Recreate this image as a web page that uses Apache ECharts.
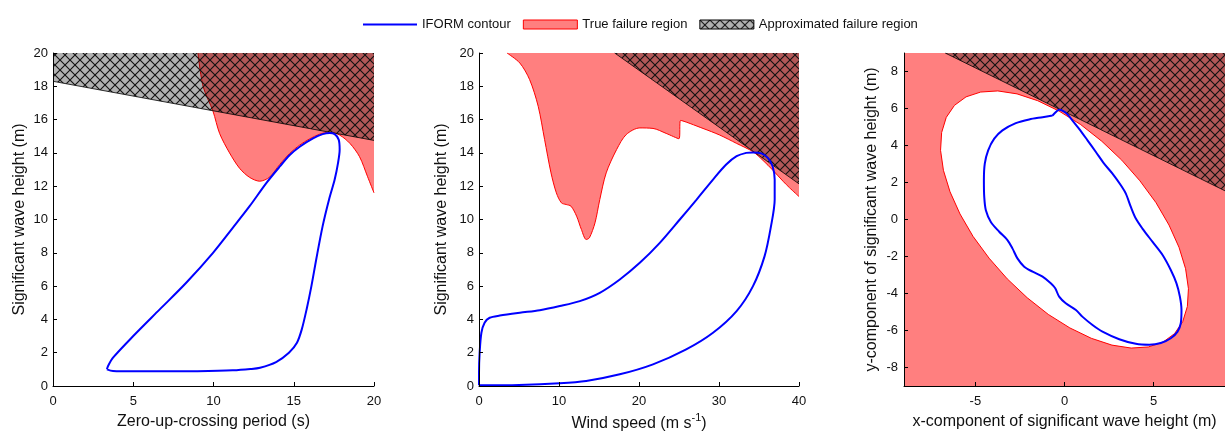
<!DOCTYPE html>
<html>
<head>
<meta charset="utf-8">
<script src="https://cdn.jsdelivr.net/npm/echarts@6/dist/echarts.min.js"></script>
<style>
  html, body { margin: 0; padding: 0; background: #fff; }
  #chart { width: 1225px; height: 439px; }
</style>
</head>
<body>
<div id="chart"></div>
<script>
// panel 1: zero-up-crossing period (s) vs Hs (m)
const iform1 = [[3.36,1.0],[3.74,0.9],[5,0.88],[7,0.88],[9,0.89],[11.2,0.94],[12.3,1.02],[12.9,1.1],[13.9,1.44],[14.7,2.0],[15.2,2.6],[15.5,3.4],[15.8,4.6],[16.1,6.0],[16.4,7.6],[16.8,9.6],[17.2,11.2],[17.55,12.4],[17.76,13.4],[17.86,14.2],[17.8,14.8],[17.55,15.13],[17.24,15.2],[16.8,15.13],[16.2,14.87],[15.37,14.37],[14.75,13.87],[14.12,13.17],[13.3,12.2],[12.25,10.8],[11.2,9.5],[9.97,8.0],[8.3,6.2],[6.65,4.6],[5.0,3.0],[3.74,1.7],[3.43,1.2],[3.36,1.0]];
const fail1 = [[9.03,20],[9.35,18.0],[9.97,16.5],[10.38,15.17],[11.0,14.0],[11.63,13.07],[12.25,12.53],[12.88,12.3],[13.5,12.55],[14.12,13.3],[14.75,13.97],[15.37,14.47],[16.0,14.85],[16.6,15.12],[17.24,15.25],[17.86,15.07],[18.5,14.57],[19.1,13.77],[19.6,12.57],[20,11.6]];
const approx1 = [[0,18.3],[20,14.75]];

// panel 2: wind speed (m/s) vs Hs (m)
const iform2 = [[0,0.04],[5,0.06],[10.08,0.16],[13.4,0.3],[17.6,0.7],[21.75,1.3],[25.9,2.2],[29.25,3.2],[32.2,4.5],[34.25,6.0],[35.7,7.8],[36.5,9.6],[36.96,11.2],[36.96,12.4],[36.7,13.2],[36.1,13.7],[35.3,13.97],[34.25,14.03],[33.4,14.0],[32.2,13.8],[30.9,13.3],[29.25,12.4],[27.2,11.2],[25.1,10.0],[22.6,8.6],[20.1,7.4],[17.6,6.4],[15.1,5.6],[12.6,5.1],[10.1,4.8],[7.6,4.55],[5.1,4.4],[2.6,4.23],[1.33,4.1],[0.7,3.8],[0.3,3.2],[0.08,2.0],[0,0.8],[0,0.04]];
const fail2 = [[3.5,20],[5.1,19.4],[6.33,18.4],[7.4,16.8],[8.2,14.8],[9.0,12.8],[9.67,11.6],[10.3,11.0],[10.9,10.9],[11.5,10.8],[12.2,10.2],[12.8,9.4],[13.4,8.8],[13.8,8.9],[14.5,9.8],[15.1,11.2],[15.9,12.8],[17.2,14.2],[18.4,15.1],[20.1,15.5],[21.75,15.47],[23.4,15.17],[25.0,14.85],[25.2,15.95],[28.0,15.47],[30.1,15.07],[32.2,14.57],[34.25,14.07],[35.5,13.55],[36.75,12.95],[38.0,12.3],[38.83,11.9],[40,11.38]];
const approx2 = [[16.96,20],[40,12.14]];

// panel 3: x / y components of Hs (m)
const iform3 = [[-0.67,5.62],[-0.45,5.84],[-0.3,5.93],[-0.07,5.86],[0.17,5.68],[0.45,5.35],[0.82,4.9],[1.29,4.28],[1.76,3.65],[2.22,3.02],[2.69,2.48],[3.16,1.85],[3.44,1.4],[3.72,0.68],[4.0,0.05],[4.37,-0.49],[4.93,-1.2],[5.5,-1.92],[5.96,-2.73],[6.28,-3.45],[6.47,-4.17],[6.56,-4.89],[6.52,-5.61],[6.34,-6.06],[5.96,-6.42],[5.4,-6.68],[4.75,-6.77],[4.0,-6.72],[3.07,-6.47],[2.13,-6.06],[1.57,-5.7],[1.0,-5.25],[0.64,-4.89],[0.07,-4.53],[-0.3,-4.17],[-0.52,-3.72],[-0.77,-3.45],[-1.23,-3.09],[-1.79,-2.82],[-2.26,-2.55],[-2.64,-2.1],[-2.92,-1.56],[-3.2,-1.11],[-3.66,-0.66],[-4.13,-0.13],[-4.41,0.5],[-4.5,1.22],[-4.52,2.12],[-4.47,3.02],[-4.28,3.74],[-3.94,4.37],[-3.48,4.82],[-2.73,5.21],[-1.98,5.41],[-1.23,5.53],[-0.67,5.62]];
const failOuter3 = [[-9,-9],[9,-9],[9,9],[-9,9]];
const safeEdge3 = [[6.17,-6.17],[6.63,-5.52],[6.89,-4.7],[6.95,-3.74],[6.79,-2.66],[6.42,-1.5],[5.86,-0.3],[5.13,0.91],[4.23,2.09],[3.21,3.21],[2.09,4.23],[0.91,5.13],[-0.3,5.86],[-1.5,6.42],[-2.66,6.79],[-3.74,6.95],[-4.7,6.89],[-5.52,6.63],[-6.17,6.17],[-6.63,5.52],[-6.89,4.7],[-6.95,3.74],[-6.79,2.66],[-6.42,1.5],[-5.86,0.3],[-5.13,-0.91],[-4.23,-2.09],[-3.21,-3.21],[-2.09,-4.23],[-0.91,-5.13],[0.3,-5.86],[1.5,-6.42],[2.66,-6.79],[3.74,-6.95],[4.7,-6.89],[5.52,-6.63]];
const approx3 = [[-6.69,9],[9,1.55]];

const ticks3x = [-5, 0, 5];
const ticks3y = [-8, -6, -4, -2, 0, 2, 4, 6, 8];

const FONT = 'Liberation Sans, Arial, sans-serif';
const INK = '#111';
const BLUE = '#0000FF';
const RED_FILL = '#FF7F7F';
const RED_EDGE = '#FF0000';

function makeHatch() {
  const c = document.createElement('canvas');
  c.width = 10;
  c.height = 10;
  const ctx = c.getContext('2d');
  ctx.fillStyle = 'rgba(0,0,0,0.3)';
  ctx.fillRect(0, 0, 10, 10);
  ctx.strokeStyle = '#111';
  ctx.lineWidth = 1.1;
  ctx.beginPath();
  ctx.moveTo(-1, -1); ctx.lineTo(11, 11);
  ctx.moveTo(11, -1); ctx.lineTo(-1, 11);
  ctx.stroke();
  return { image: c, repeat: 'repeat' };
}
const hatch = makeHatch();

function axis(gridIndex, min, max, interval, name, nameGap, labelMargin, extra) {
  const a = {
    gridIndex: gridIndex,
    type: 'value',
    min: min,
    max: max,
    interval: interval,
    z: 10,
    name: name,
    nameLocation: 'middle',
    nameGap: nameGap,
    nameTextStyle: { fontSize: 16, color: INK, fontFamily: FONT },
    axisLine: { show: true, onZero: false, lineStyle: { color: '#000', width: 1 } },
    axisTick: { show: true, inside: true, length: 4, lineStyle: { color: '#000' } },
    axisLabel: { fontSize: 13, color: INK, fontFamily: FONT, margin: labelMargin },
    splitLine: { show: false }
  };
  return Object.assign(a, extra || {});
}

const option = {
  animation: false,
  backgroundColor: '#fff',
  legend: {
    left: 358,
    top: 13,
    itemWidth: 54,
    itemHeight: 9,
    itemGap: 12,
    textStyle: { fontSize: 13, color: INK, fontFamily: FONT },
    data: [
      { name: 'IFORM contour', icon: 'path://M0,0 L54,0 L54,2 L0,2 Z', itemStyle: { color: BLUE, borderWidth: 0 } },
      { name: 'True failure region', icon: 'rect', itemStyle: { color: RED_FILL, borderColor: RED_EDGE, borderWidth: 1 } },
      { name: 'Approximated failure region', icon: 'rect', itemStyle: { color: hatch, borderColor: '#000', borderWidth: 1 } }
    ]
  },
  grid: [
    { left: 53, top: 53, width: 321, height: 333 },
    { left: 479, top: 53, width: 320, height: 333 },
    { left: 904, top: 53, width: 321, height: 333 }
  ],
  xAxis: [
    axis(0, 0, 20, 5, 'Zero-up-crossing period (s)', 28, 9),
    axis(1, 0, 40, 10, '{a|Wind speed (m s}{b|-1}{a|)}', 26, 9, {
      nameTextStyle: {
        rich: {
          a: { fontSize: 16, lineHeight: 22, color: INK, fontFamily: FONT },
          b: { fontSize: 11, lineHeight: 11, color: INK, fontFamily: FONT, verticalAlign: 'top' }
        }
      }
    }),
    axis(2, -9, 9, 1, 'x-component of significant wave height (m)', 28, 9)
  ],
  yAxis: [
    axis(0, 0, 20, 2, 'Significant wave height (m)', 25, 5),
    axis(1, 0, 20, 2, 'Significant wave height (m)', 29, 5),
    axis(2, -9, 9, 1, 'y-component of significant wave height (m)', 24, 6)
  ],
  series: [
    // panel 1
    {
      name: 'True failure region', type: 'line', xAxisIndex: 0, yAxisIndex: 0, z: 2,
      data: fail1, symbol: 'none', smooth: 0.3,
      itemStyle: { color: RED_FILL },
      lineStyle: { color: RED_EDGE, width: 1 },
      areaStyle: { color: RED_FILL, opacity: 1, origin: 'end' }
    },
    {
      name: 'Approximated failure region', type: 'line', xAxisIndex: 0, yAxisIndex: 0, z: 3,
      data: approx1, symbol: 'none',
      lineStyle: { color: '#000', width: 0.8 },
      areaStyle: { color: hatch, opacity: 1, origin: 'end' }
    },
    {
      name: 'IFORM contour', type: 'line', xAxisIndex: 0, yAxisIndex: 0, z: 4,
      data: iform1, symbol: 'none', smooth: 0.3,
      itemStyle: { color: BLUE },
      lineStyle: { color: BLUE, width: 2 }
    },
    // panel 2
    {
      name: 'True failure region', type: 'line', xAxisIndex: 1, yAxisIndex: 1, z: 2,
      data: fail2, symbol: 'none', smooth: 0.3,
      itemStyle: { color: RED_FILL },
      lineStyle: { color: RED_EDGE, width: 1 },
      areaStyle: { color: RED_FILL, opacity: 1, origin: 'end' }
    },
    {
      name: 'Approximated failure region', type: 'line', xAxisIndex: 1, yAxisIndex: 1, z: 3,
      data: approx2, symbol: 'none',
      lineStyle: { color: '#000', width: 0.8 },
      areaStyle: { color: hatch, opacity: 1, origin: 'end' }
    },
    {
      name: 'IFORM contour', type: 'line', xAxisIndex: 1, yAxisIndex: 1, z: 4,
      data: iform2, symbol: 'none', smooth: 0.3,
      itemStyle: { color: BLUE },
      lineStyle: { color: BLUE, width: 2 }
    },
    // panel 3
    {
      name: 'True failure region', type: 'custom', xAxisIndex: 2, yAxisIndex: 2, z: 2,
      data: [[0, 0]],
      itemStyle: { color: RED_FILL },
      renderItem: function (params, api) {
        const outer = failOuter3.map(p => api.coord(p));
        const inner = safeEdge3.map(p => api.coord(p));
        return {
          type: 'group',
          children: [
            { type: 'polygon', shape: { points: outer }, style: { fill: RED_FILL } },
            { type: 'polygon', shape: { points: inner }, style: { fill: '#fff', stroke: RED_EDGE, lineWidth: 1 } }
          ]
        };
      }
    },
    {
      name: 'Approximated failure region', type: 'line', xAxisIndex: 2, yAxisIndex: 2, z: 3,
      data: approx3, symbol: 'none',
      lineStyle: { color: '#000', width: 0.8 },
      areaStyle: { color: hatch, opacity: 1, origin: 'end' }
    },
    {
      name: 'IFORM contour', type: 'line', xAxisIndex: 2, yAxisIndex: 2, z: 4,
      data: iform3, symbol: 'none', smooth: 0.3,
      itemStyle: { color: BLUE },
      lineStyle: { color: BLUE, width: 2 }
    }
  ]
};

// custom tick positions for the third panel
option.xAxis[2].axisTick.customValues = ticks3x;
option.xAxis[2].axisLabel.customValues = ticks3x;
option.yAxis[2].axisTick.customValues = ticks3y;
option.yAxis[2].axisLabel.customValues = ticks3y;

const chart = echarts.init(document.getElementById('chart'), null, { renderer: 'canvas' });
chart.setOption(option);
</script>
</body>
</html>
